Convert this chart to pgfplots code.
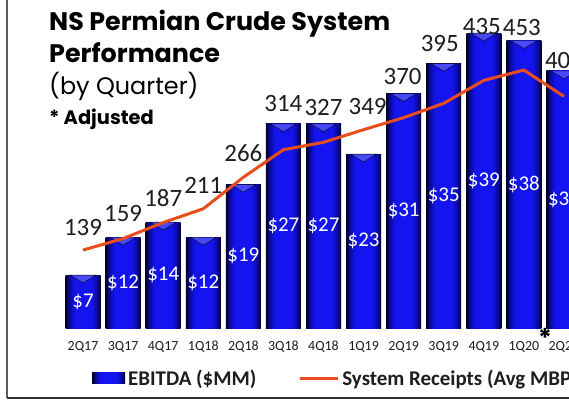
\documentclass[border=0pt]{standalone}
\usepackage{fontspec}
\setmainfont{Carlito}
\newfontfamily\titlefont{Poppins}
\usepackage{pgfplots}
\usepackage{pgfplotstable}
\pgfplotsset{compat=1.18}
\definecolor{barblue}{RGB}{20,20,240}
\definecolor{barmid}{RGB}{10,10,150}
\definecolor{bardark}{RGB}{0,0,40}
\definecolor{chev}{RGB}{95,95,250}
\definecolor{lineorange}{RGB}{232,78,27}
\definecolor{txt}{RGB}{30,30,30}
\pgfdeclarehorizontalshading{barshade}{100bp}{color(0bp)=(bardark); color(25bp)=(bardark); color(30bp)=(barmid); color(38bp)=(barblue); color(62bp)=(barblue); color(70bp)=(barmid); color(75bp)=(bardark); color(100bp)=(bardark)}

\pgfplotstableread{
x ebitda receipts dy dx
0 7 139 23 0
1 12 159 25.5 0
2 14 187 24.5 0
3 12 211 23.7 0
4 19 266 24 0
5 27 314 46 0
6 27 327 35 0
7 23 349 23 4
8 31 370 41.6 -1
9 35 395 60 -4
10 39 435 53.4 -2
11 38 453 43 -2
12 34 407 36 0
}\data

\begin{document}
\begin{tikzpicture}
\path[use as bounding box] (0,0) rectangle (569bp,-401bp);
\clip (0,0) rectangle (569bp,-401bp);
\fill[white] (0,0) rectangle (569bp,-401bp);

% titles
\node[anchor=base west, inner sep=0pt, font=\titlefont\bfseries\fontsize{25.5}{25.5}\selectfont] at (49bp,-30bp) {NS Permian Crude System};
\node[anchor=base west, inner sep=0pt, font=\titlefont\bfseries\fontsize{25.5}{25.5}\selectfont] at (49bp,-62bp) {Performance};
\node[anchor=base west, inner sep=0pt, font=\titlefont\fontsize{24}{24}\selectfont] at (49bp,-94bp) {(by Quarter)};
\node[anchor=base west, inner sep=0pt, font=\titlefont\bfseries\fontsize{19.5}{19.5}\selectfont] at (49bp,-124bp) {* Adjusted};

% bar axis
\begin{axis}[
  at={(63bp,-328bp)}, anchor=south west,
  scale only axis, width=521bp, height=300bp,
  xmin=-0.5, xmax=12.5, ymin=0, ymax=39.68,
  axis line style={draw=none}, ytick=\empty,
  xtick={0,...,12},
  xticklabels={2Q17,3Q17,4Q17,1Q18,2Q18,3Q18,4Q18,1Q19,2Q19,3Q19,4Q19,1Q20,2Q20},
  major tick length=0pt,
  xticklabel style={anchor=center, yshift=-19bp, inner sep=0pt, text=txt, font=\fontsize{14}{14}\selectfont},
  clip=false,
]
\pgfplotsinvokeforeach{0,...,12}{
\addplot[ybar, bar width=35bp, bar shift=0pt, draw=none, shading=barshade,
  x filter/.expression={abs(x-#1)<0.1 ? x : nan}]
  table[x=x, y=ebitda]{\data};
}
\addplot[only marks, mark=triangle*, mark size=15bp,
  mark options={rotate=180, yscale=0.35, fill=chev, draw=none, fill opacity=0.7}]
  table[x=x, y expr=\thisrow{ebitda}-0.35]{\data};
\addplot[draw=none, mark=none, nodes near coords={\$\pgfplotspointmeta},
  point meta=explicit symbolic,
  every node near coord/.style={anchor=center, inner sep=0pt, text=white, font=\fontsize{21}{21}\selectfont}]
  table[x=x, y expr=\thisrow{ebitda}/2, meta=ebitda]{\data};
\end{axis}

% line axis
\begin{axis}[
  at={(63bp,-328bp)}, anchor=south west,
  scale only axis, width=521bp, height=300bp,
  xmin=-0.5, xmax=12.5, ymin=3, ymax=526.4,
  hide axis, clip=false,
  legend columns=2,
  legend style={draw=none, fill=none, inner sep=0pt, at={(0.0557,-0.1667)}, anchor=west,
    font=\bfseries\fontsize{21}{21}\selectfont, text=txt,
    /tikz/every odd column/.append style={column sep=1bp},
    /tikz/every even column/.append style={column sep=40bp}},
]
\addlegendimage{legend image code/.code={\fill[shading=barshade, draw=none] (0bp,-5.5bp) rectangle (33bp,5.5bp);}}
\addlegendentry{EBITDA (\$MM)}
\addplot[lineorange, line width=3bp, mark=none,
  nodes near coords, point meta=explicit symbolic,
  visualization depends on={\thisrow{dy} \as \dy},
  visualization depends on={\thisrow{dx} \as \dx},
  every node near coord/.style={anchor=center, inner sep=0pt, text=txt,
    font=\fontsize{25}{25}\selectfont, yshift=\dy*1bp, xshift=\dx*1bp},
  legend image code/.code={\draw[lineorange, line width=3bp] (0bp,0bp) -- (38bp,0bp);}]
  table[x=x, y=receipts, meta=receipts]{\data};
\addlegendentry{System Receipts (Avg MBPD)}
\end{axis}

% footnote marker on 1Q20
\node[inner sep=0pt, text=black, font=\titlefont\bfseries\fontsize{26}{26}\selectfont] at (545bp,-338bp) {*};

% frame
\draw[gray!70!black, line width=1.5bp] (7bp,0) -- (7bp,-398bp);
\draw[black!80, line width=2bp] (7bp,-398bp) -- (569bp,-398bp);
\end{tikzpicture}
\end{document}
